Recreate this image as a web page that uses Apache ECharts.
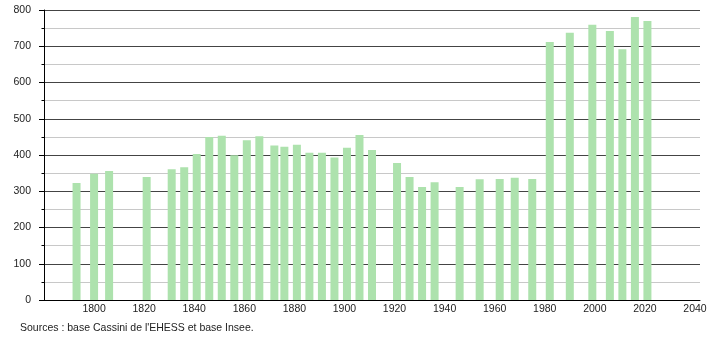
<!DOCTYPE html>
<html>
<head>
<meta charset="utf-8">
<script src="https://cdn.jsdelivr.net/npm/echarts@6/dist/echarts.min.js"></script>
<style>
html,body{margin:0;padding:0;background:#fff;}
#chart{width:710px;height:340px;}
</style>
</head>
<body>
<div id="chart"></div>
<script>
const years = [1793,1800,1806,1821,1831,1836,1841,1846,1851,1856,1861,1866,1872,1876,1881,1886,1891,1896,1901,1906,1911,1921,1926,1931,1936,1946,1954,1962,1968,1975,1982,1990,1999,2006,2011,2016,2021];
const population = [323,348,356,339,361,366,403,450,453,399,441,452,426,423,428,406,406,393,420,455,414,378,339,312,325,312,333,334,337,334,712,737,759,742,692,781,770];
const yTicks = [0,100,200,300,400,500,600,700,800];
const sourceText = "Sources : base Cassini de l'EHESS et base Insee.";

const chart = echarts.init(document.getElementById('chart'));
const font = '"Liberation Sans", Arial, sans-serif';
chart.setOption({
  animation: false,
  backgroundColor: '#fff',
  grid: {left: 44, right: 10, top: 10, bottom: 40, containLabel: false},
  graphic: [{
    type: 'text', left: 20, top: 323,
    style: {text: sourceText, fill: '#222', font: '10.5px ' + font}
  }],
  xAxis: {
    type: 'value', min: 1780, max: 2042, interval: 20,
    axisLine: {show: true, lineStyle: {color: '#000', width: 1}},
    axisTick: {show: false},
    splitLine: {show: false},
    axisLabel: {
      color: '#222', fontSize: 10.5, fontFamily: font, margin: 4,
      showMinLabel: true, showMaxLabel: true,
      formatter: v => (v % 20 === 0 && v > 1780) ? String(v) : ''
    }
  },
  yAxis: {
    type: 'value', min: yTicks[0], max: yTicks[yTicks.length - 1], interval: 100,
    axisLine: {show: true, lineStyle: {color: '#000', width: 1}},
    axisTick: {show: true, length: 5, lineStyle: {color: '#000'}},
    minorTick: {show: true, splitNumber: 2, length: 2.5, lineStyle: {color: '#000'}},
    splitLine: {show: true, lineStyle: {color: '#444', width: 1}},
    minorSplitLine: {show: true, lineStyle: {color: '#c8c8c8', width: 1}},
    axisLabel: {color: '#222', fontSize: 10.5, fontFamily: font, margin: 13}
  },
  series: [{
    type: 'bar',
    barWidth: 8,
    itemStyle: {color: '#ade2ad'},
    data: years.map((y, i) => [y, population[i]])
  }]
});
</script>
</body>
</html>
